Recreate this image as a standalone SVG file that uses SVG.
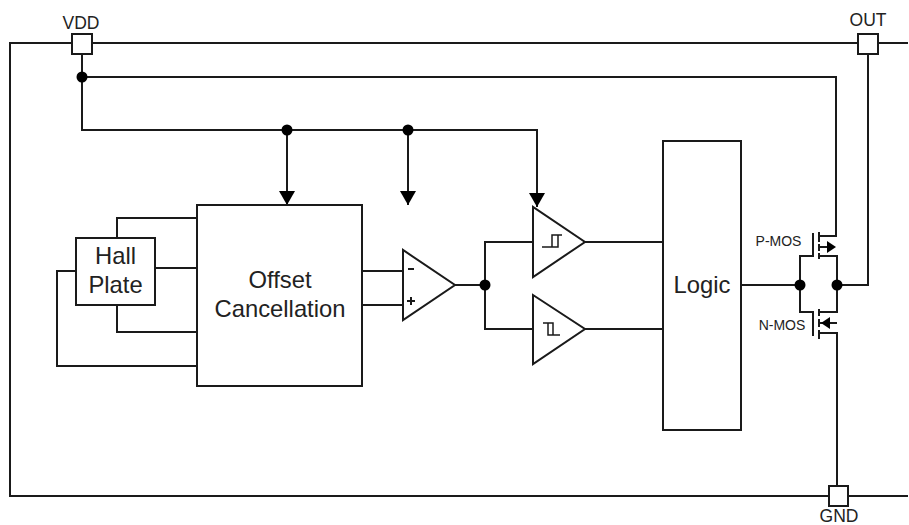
<svg xmlns="http://www.w3.org/2000/svg" width="909" height="525" viewBox="0 0 909 525">
<style>
.l{fill:none;stroke:#1a1a1a;stroke-width:2}
.b{fill:#fff;stroke:#1a1a1a;stroke-width:2}
.s{fill:none;stroke:#1a1a1a;stroke-width:1.5}
.d{fill:#000}
text{font-family:"Liberation Sans",Arial,sans-serif;fill:#222;text-anchor:middle}
.m{font-size:23.8px}
.p{font-size:17.5px}
.t{font-size:14px}
</style>
<defs>
<marker id="arr" markerUnits="userSpaceOnUse" markerWidth="16" markerHeight="16" refX="14" refY="8" orient="auto"><path d="M0 0L14 8L0 16Z" fill="#000"/></marker>
</defs>
<rect width="909" height="525" fill="#fff"/>
<g id="connectors">
<path class="l" d="M908 43H10V496H908"/>
<path class="l" d="M82 54V130H537V207" marker-end="url(#arr)"/>
<path class="l" d="M82 77H836V236H819"/>
<path class="l" d="M287 130V205" marker-end="url(#arr)"/>
<path class="l" d="M408 130V205" marker-end="url(#arr)"/>
<path class="l" d="M117 238V218H197M155 268H197M117 305V332H197M76 271H57V366H197"/>
<path class="l" d="M362 271H403M362 305H403M455 285H485M533 242H485V329H533"/>
<path class="l" d="M585 242H663M585 329H663M741 285H800"/>
<path class="l" d="M813 233V256H800V312H813V336"/>
<path class="l" d="M819 256H837V312H819M837 285H868V53M819 333H837V486"/>
<path class="l" d="M819 247H830M819 323H837"/>
<path d="M827 241L836 247L827 253Z" fill="#000"/>
<path d="M821 323L830 317V329Z" fill="#000"/>
<path class="l" d="M819 232V242M819 244V251M819 253V259M819 309V316M819 319V327M819 330V339"/>
<circle class="d" cx="82" cy="77" r="5.500"/>
<circle class="d" cx="287" cy="130" r="5.500"/>
<circle class="d" cx="408" cy="130" r="5.500"/>
<circle class="d" cx="485" cy="285" r="5.500"/>
<circle class="d" cx="800" cy="285" r="5.500"/>
<circle class="d" cx="837" cy="285" r="5.500"/>
</g>
<g id="pin-vdd"><rect class="b" x="72" y="34" width="20" height="20"/><text class="p" x="81" y="29">VDD</text></g>
<g id="pin-out"><rect class="b" x="858" y="34" width="20" height="20"/><text class="p" x="868" y="26">OUT</text></g>
<g id="pin-gnd"><rect class="b" x="829" y="486" width="19" height="20"/><text class="p" x="839" y="522">GND</text></g>
<g id="hall-plate"><rect class="b" x="76" y="238" width="79" height="67"/><text class="m" x="115.500" y="264">Hall</text><text class="m" x="115.500" y="293">Plate</text></g>
<g id="offset-cancellation"><rect class="b" x="197" y="205" width="165" height="181"/><text class="m" x="280" y="288">Offset</text><text class="m" x="280" y="317">Cancellation</text></g>
<g id="opamp"><path class="b" d="M403 250V320L455 285Z"/><path class="l" d="M408 269H414M407 301H415M411 297V305"/></g>
<g id="comparator-high"><path class="b" d="M533 207V277L585 242Z"/><path class="s" d="M542 247H558V235H552V247M558 235H562"/></g>
<g id="comparator-low"><path class="b" d="M533 295V364L585 329Z"/><path class="s" d="M543 323H553V335H548V323M553 335H560"/></g>
<g id="logic"><rect class="b" x="663" y="141" width="78" height="289"/><text class="m" x="702" y="293">Logic</text></g>
<g id="p-mos"><text class="t" x="778.500" y="246">P-MOS</text></g>
<g id="n-mos"><text class="t" x="782" y="330">N-MOS</text></g>
</svg>
